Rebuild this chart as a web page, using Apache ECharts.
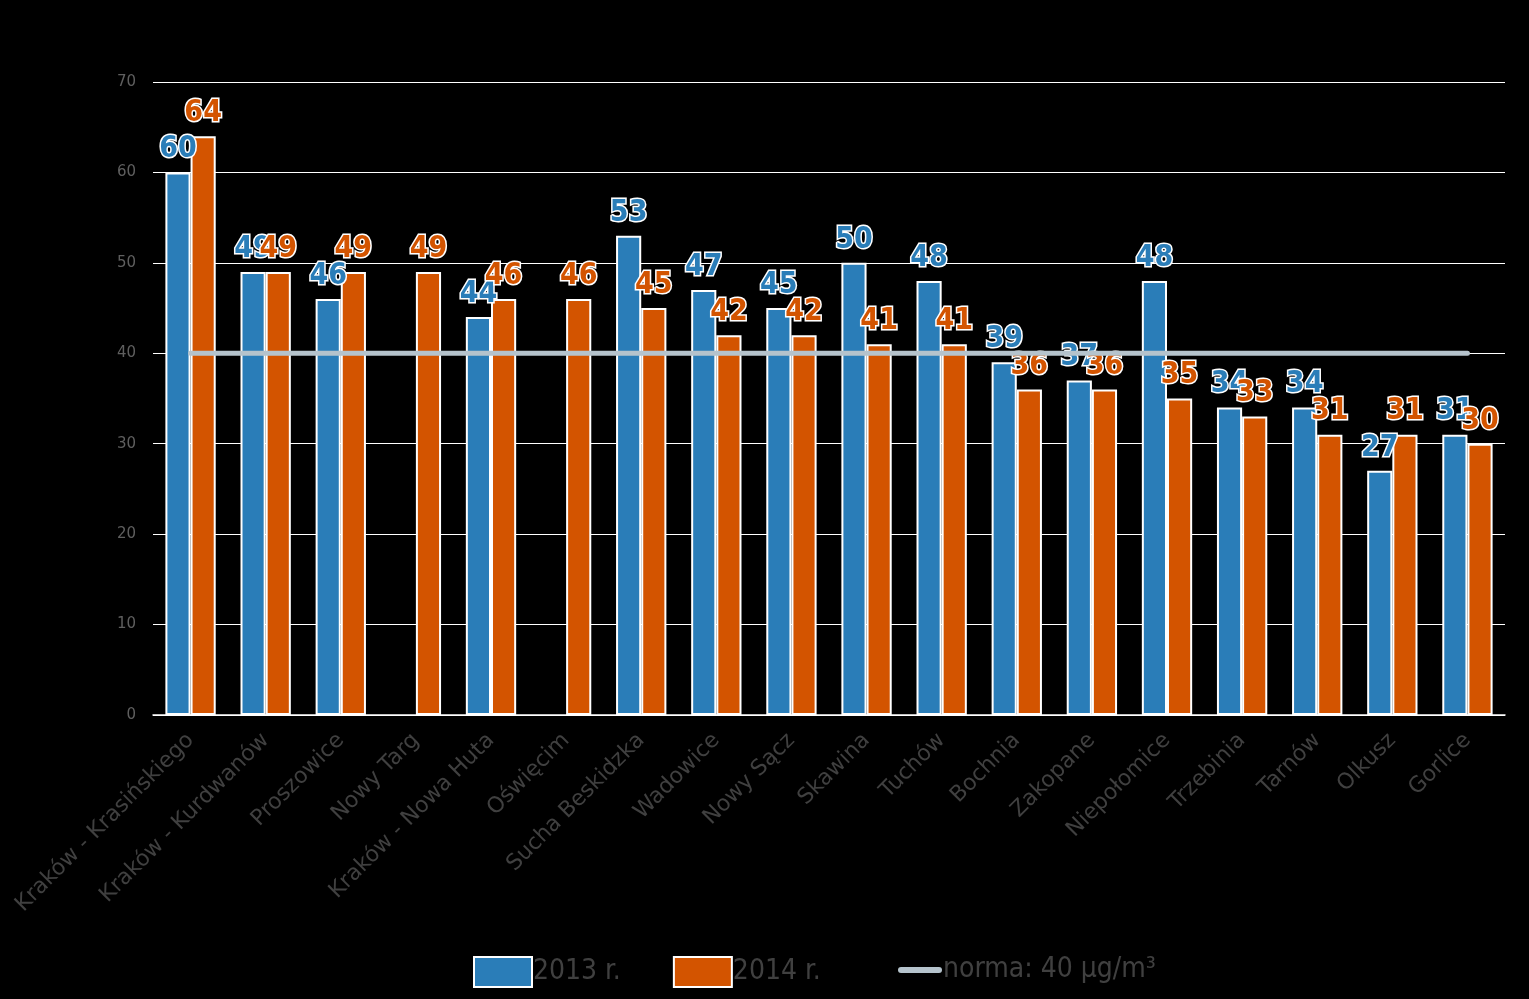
<!DOCTYPE html>
<html><head><meta charset="utf-8">
<script src="https://cdn.jsdelivr.net/npm/echarts@6/dist/echarts.min.js"></script>
<style>html,body{margin:0;padding:0;background:#000;}#c{width:1529px;height:999px;}</style>
</head><body><div id="c"></div>
<script>
const categories = ['Kraków - Krasińskiego','Kraków - Kurdwanów','Proszowice','Nowy Targ','Kraków - Nowa Huta','Oświęcim','Sucha Beskidzka','Wadowice','Nowy Sącz','Skawina','Tuchów','Bochnia','Zakopane','Niepołomice','Trzebinia','Tarnów','Olkusz','Gorlice'];
const values2013 = [60,49,46,null,44,null,53,47,45,50,48,39,37,48,34,34,27,31];
const values2014 = [64,49,49,49,46,46,45,42,42,41,41,36,36,35,33,31,31,30];
const normValue = 40;
const normValues = categories.map(() => normValue);
const yTicks = {min:0, max:70, interval:10};

const blue = '#2a7db8', orange = '#d35400', lineCol = '#b5c3cc';
const labelFont = '"DejaVu Sans Condensed",sans-serif';
function barLabel(color){
  return {show:true, position:'top', distance:8, color:color, fontFamily:labelFont, fontWeight:'bold', fontSize:30,
    textBorderColor:'#fff', textBorderWidth:3};
}
const chart = echarts.init(document.getElementById('c'));
chart.setOption({
  backgroundColor:'#000',
  animation:false,
  grid:{left:153, right:24, top:82, bottom:284, containLabel:false},
  legend:[{
    left:468, top:951, itemWidth:58, itemHeight:30, itemGap:52,
    data:[{name:'2013 r.', icon:'rect'},{name:'2014 r.', icon:'rect'}],
    textStyle:{color:'#404040', fontSize:28, fontFamily:labelFont, padding:[0,0,0,-4]}
  },{
    left:893, top:951, itemWidth:44, itemHeight:30,
    data:[{name:'norma: 40 µg/m³', icon:'path://M3,0 L41,0 A3,3 0 0 1 41,6 L3,6 A3,3 0 0 1 3,0 Z'}],
    textStyle:{color:'#404040', fontSize:28, fontFamily:labelFont, padding:[0,0,0,-4]}
  }],
  xAxis:{type:'category', data:categories,
    axisLine:{lineStyle:{color:'#fff', width:1.5}}, axisTick:{show:false},
    axisLabel:{rotate:45, color:'#404040', fontSize:22, fontFamily:'"DejaVu Sans",sans-serif', margin:22, interval:0}},
  yAxis:{type:'value', min:yTicks.min, max:yTicks.max, interval:yTicks.interval,
    axisLine:{show:false}, axisTick:{show:false},
    axisLabel:{color:'#5f5f5f', fontSize:15, fontFamily:'"DejaVu Sans",sans-serif', margin:17},
    splitLine:{lineStyle:{color:'#fff', width:1}}},
  series:[
    {name:'2013 r.', type:'bar', data:values2013, barGap:'0%', barCategoryGap:'33%',
      itemStyle:{color:blue, borderColor:'#fff', borderWidth:2}, label:barLabel(blue)},
    {name:'2014 r.', type:'bar', data:values2014,
      itemStyle:{color:orange, borderColor:'#fff', borderWidth:2}, label:barLabel(orange)},
    {name:'norma: 40 µg/m³', type:'line', data:normValues, symbol:'none', z:5,
      itemStyle:{color:lineCol},
      lineStyle:{color:lineCol, width:5, cap:'round'}}
  ]
});
</script></body></html>
